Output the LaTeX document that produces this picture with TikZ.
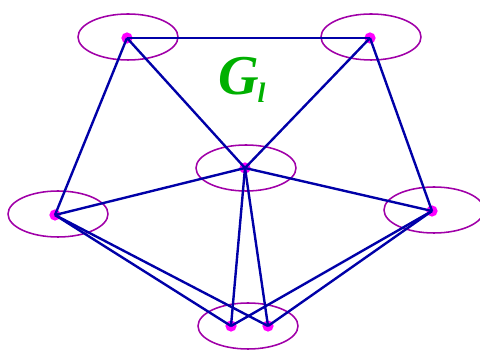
\documentclass[tikz,border=0pt]{standalone}
\usepackage{fontspec}
\newfontfamily\labelfont{Liberation Serif}
\usetikzlibrary{positioning}
\definecolor{edge}{HTML}{0000A8}
\definecolor{ring}{HTML}{A000A8}
\definecolor{vertex}{HTML}{FF00FF}
\definecolor{title}{HTML}{00B000}
\tikzset{
  edgeline/.style={edge,line width=1.7pt},
  ringline/.style={ring,line width=1.1pt},
  vdot/.style={circle,fill=vertex,inner sep=0pt,minimum size=8pt}
}

\begin{document}
\begin{tikzpicture}[x=0.025cm,y=-0.025cm]
  \useasboundingbox (0,0) rectangle (480,352);
  % Clusters
  \draw[ringline] (128,37) ellipse (50 and 23);
  \draw[ringline] (371,37) ellipse (50 and 23);
  \draw[ringline] (246,168) ellipse (50 and 23);
  \draw[ringline] (58,214) ellipse (50 and 23);
  \draw[ringline] (434,210) ellipse (50 and 23);
  \draw[ringline] (248,326) ellipse (50 and 23);

  % Vertices
  \node[vdot] (tl) at (127,38) {};
  \node[vdot] (tr) at (370,38) {};
  \node[vdot] (c) at (245,168) {};
  \node[vdot] (l) at (55,215) {};
  \node[vdot] (r) at (432,211) {};
  \node[vdot] (b1) at (231,326) {};
  \node[vdot] (b2) at (268,326) {};

  % Edges
  \draw[edgeline] (tl.center) -- (tr.center);
  \draw[edgeline] (tl.center) -- (c.center);
  \draw[edgeline] (tr.center) -- (c.center);
  \draw[edgeline] (tl.center) -- (l.center);
  \draw[edgeline] (tr.center) -- (r.center);
  \draw[edgeline] (c.center) -- (l.center);
  \draw[edgeline] (c.center) -- (r.center);
  \draw[edgeline] (c.center) -- (b1.center);
  \draw[edgeline] (c.center) -- (b2.center);
  \draw[edgeline] (l.center) -- (b1.center);
  \draw[edgeline] (l.center) -- (b2.center);
  \draw[edgeline] (r.center) -- (b1.center);
  \draw[edgeline] (r.center) -- (b2.center);

  % Label
  \node[title,font=\labelfont\bfseries\itshape\fontsize{40}{40}\selectfont] (g) at (242,80) {G\kern-1pt\raisebox{-6pt}{\fontsize{20}{20}\selectfont l}};
\end{tikzpicture}
\end{document}
